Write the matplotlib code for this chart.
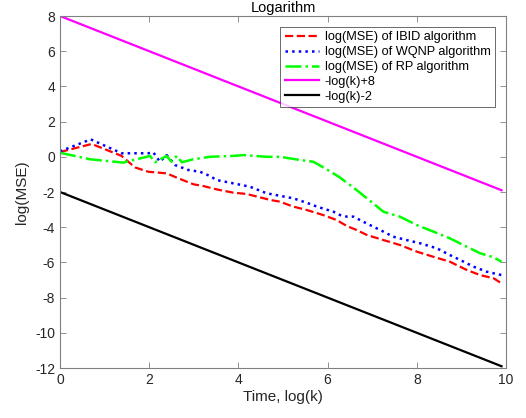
import matplotlib
matplotlib.use("Agg")
import matplotlib.pyplot as plt

plt.rcParams['font.family'] = ['Liberation Sans', 'DejaVu Sans']
plt.rcParams['axes.unicode_minus'] = False

# IBID algorithm
ibid_x = [0, 0.71, 1.38, 1.68, 1.98, 2.39, 2.69, 2.99, 3.21, 3.51, 3.89, 4.18, 4.48, 4.71,
          4.93, 5.23, 5.53, 5.9, 6.2, 6.43, 6.65, 6.88, 7.25, 7.62, 8.0, 8.37, 8.74, 9.12,
          9.42, 9.72, 9.9]
ibid_y = [0.27, 0.73, 0.05, -0.6, -0.85, -0.94, -1.26, -1.56, -1.66, -1.85, -2.04, -2.11,
          -2.3, -2.45, -2.55, -2.83, -3.02, -3.31, -3.59, -3.93, -4.16, -4.44, -4.73, -5.01,
          -5.39, -5.68, -5.96, -6.43, -6.72, -6.9, -7.19]

# WQNP algorithm
wqnp_x = [0, 0.69, 1.38, 1.98, 2.09, 2.24, 2.39, 2.58, 2.88, 3.14, 3.36, 3.51, 3.89, 4.26,
          4.63, 5.23, 5.53, 5.76, 6.13, 6.28, 6.43, 6.58, 6.8, 7.25, 7.47, 7.77, 8.07, 8.45,
          8.74, 8.97, 9.27, 9.57, 9.9]
wqnp_y = [0.31, 0.99, 0.2, 0.2, 0.26, -0.28, 0.1, -0.47, -0.75, -0.85, -1.09, -1.32, -1.51,
          -1.7, -2.07, -2.36, -2.61, -2.83, -3.12, -3.31, -3.4, -3.4, -3.69, -4.25, -4.54,
          -4.73, -4.91, -5.2, -5.58, -5.86, -6.24, -6.53, -6.72]

# RP algorithm
rp_x = [0, 0.67, 1.42, 2.02, 2.13, 2.39, 2.5, 2.62, 2.73, 2.99, 3.36, 3.89, 4.11, 4.63,
        4.93, 5.38, 5.68, 5.98, 6.28, 6.65, 7.02, 7.25, 7.62, 8.0, 8.37, 8.74, 9.12, 9.42,
        9.72, 9.9]
rp_y = [0.23, -0.14, -0.33, 0.05, -0.31, 0.05, -0.28, 0.05, -0.31, -0.14, 0.0, 0.05, 0.1,
        0.0, 0.0, -0.18, -0.28, -0.71, -1.18, -1.89, -2.64, -3.12, -3.4, -3.88, -4.25,
        -4.63, -5.11, -5.48, -5.71, -5.96]

# reference lines
ref_x = [0, 9.9]
ref_hi_y = [8, -1.9]
ref_lo_y = [-2, -11.9]

labels = ['log(MSE) of IBID algorithm', 'log(MSE) of WQNP algorithm',
          'log(MSE) of RP algorithm', '-log(k)+8', '-log(k)-2']

fig = plt.figure(figsize=(5.26, 4.18), dpi=100)
ax = fig.add_axes([60/526, 50/418, 446/526, 352/418])

ax.plot(ibid_x, ibid_y, color='#ff0000', ls='--', lw=1.6, label=labels[0])
ax.plot(wqnp_x, wqnp_y, color='#0000ff', ls=':', lw=1.8, label=labels[1])
ax.plot(rp_x, rp_y, color='#00ff00', ls='-.', lw=1.8, label=labels[2])
ax.plot(ref_x, ref_hi_y, color='#ff00ff', ls='-', lw=1.6, label=labels[3])
ax.plot(ref_x, ref_lo_y, color='#000000', ls='-', lw=1.6, label=labels[4])

ax.set_xlim(0, 10)
ax.set_ylim(-12, 8)
ax.set_xticks([0, 2, 4, 6, 8, 10])
ax.set_yticks(list(range(-12, 9, 2)))

axc = '#262626'
for s in ax.spines.values():
    s.set_color('#808080')
    s.set_linewidth(0.8)
ax.tick_params(direction='in', top=True, right=True, length=4, width=0.6,
               colors='#808080', labelcolor=axc, labelsize=10)

ax.set_title('Logarithm', fontsize=10.5, color='black', pad=3)
ax.set_xlabel('Time, log(k)', fontsize=11, color=axc, labelpad=2)
ax.set_ylabel('log(MSE)', fontsize=11, color=axc, labelpad=4)

leg = ax.legend(loc='upper right', bbox_to_anchor=(0.975, 0.969), borderaxespad=0,
                fontsize=9.2, frameon=True, fancybox=False, handlelength=2.7,
                labelspacing=0.22, borderpad=0.35, handletextpad=0.4)
leg.get_frame().set_edgecolor('#262626')
leg.get_frame().set_linewidth(0.6)

fig.savefig('out.png', dpi=100)
